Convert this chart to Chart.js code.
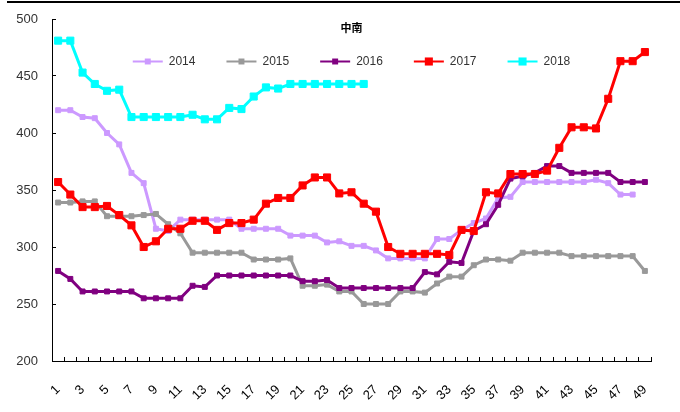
<!DOCTYPE html>
<html><head><meta charset="utf-8">
<script src="https://cdn.jsdelivr.net/npm/chart.js@4"></script>
<style>html,body{margin:0;padding:0;background:#fff}#wrap{width:680px;height:412px;position:relative}</style>
</head><body><div id="wrap"><canvas id="c"></canvas></div>
<script>
const chartTitle = '中南';
const categories = ['1','2','3','4','5','6','7','8','9','10','11','12','13','14','15','16','17','18','19','20','21','22','23','24','25','26','27','28','29','30','31','32','33','34','35','36','37','38','39','40','41','42','43','44','45','46','47','48','49'];
const seriesNames = ['2014','2015','2016','2017','2018'];
const s2014 = [420,420,414,413,400,390,365,356,316,314,324,324,324,324,324,316,316,316,316,310,310,310,304,305,301,301,297,290,290,290,290,307,307,315,321,325,343,344,357,357,357,357,357,357,359,356,346,346];
const s2015 = [339,339,340,340,327,327,327,328,329,320,312,295,295,295,295,295,289,289,289,290,266,266,267,261,261,250,250,250,261,261,260,268,274,274,284,289,289,288,295,295,295,295,292,292,292,292,292,292,279];
const s2016 = [279,272,261,261,261,261,261,255,255,255,255,266,265,275,275,275,275,275,275,275,270,270,271,264,264,264,264,264,264,264,278,276,287,286,314,320,337,360,362,365,371,371,365,365,365,365,357,357,357];
const s2017 = [357,346,335,335,336,328,319,300,305,316,316,323,323,315,321,321,324,338,343,343,354,361,361,347,348,338,331,300,294,294,294,294,293,315,314,348,347,364,364,364,367,387,405,405,404,430,463,463,471];
const s2018 = [481,481,453,443,437,438,414,414,414,414,414,416,412,412,422,421,432,440,439,443,443,443,443,443,443,443];
const yTicks = [200,250,300,350,400,450,500];

const FONT = "'Liberation Sans', Arial, sans-serif";
const seriesData = [s2014, s2015, s2016, s2017, s2018];
const colors = ['#CC99FF', '#999999', '#800080', '#FF0000', '#00FFFF'];
const radii = [3.5, 3.5, 3.5, 5, 5];
const orders = [5, 4, 3, 2, 1];

const datasets = seriesNames.map((name, i) => ({
  label: name,
  data: seriesData[i],
  borderColor: colors[i],
  backgroundColor: colors[i],
  borderWidth: 3,
  pointStyle: 'rect',
  pointRadius: radii[i],
  pointBorderWidth: 1,
  pointBackgroundColor: colors[i],
  pointBorderColor: colors[i],
  tension: 0,
  order: orders[i]
}));

const decorations = {
  id: 'decorations',
  beforeLayout(chart) {
    const lg = chart.legend;
    if (lg && !lg._patched) {
      const f = lg.fit.bind(lg);
      lg.fit = function () { f(); this.height = 19; };
      lg.draw = function () { if (this.options.display) this._draw(); };
      lg._patched = true;
    }
  },
  afterDraw(chart) {
    const ctx = chart.ctx;
    const lg = chart.legend;
    const bw = lg.options.labels.boxWidth;
    ctx.save();
    lg.legendHitBoxes.forEach((hb, i) => {
      const item = lg.legendItems[i];
      const ds = chart.data.datasets[item.datasetIndex];
      const s = ds.pointRadius * Math.SQRT2 + 1;
      const cx = hb.left + bw / 2, cy = hb.top + hb.height / 2;
      ctx.fillStyle = ds.borderColor;
      ctx.fillRect(cx - s / 2, cy - s / 2, s, s);
    });
    ctx.fillStyle = '#000';
    ctx.fillRect(7, 1, 673, 2);
    ctx.restore();
  }
};

new Chart(document.getElementById('c'), {
  type: 'line',
  data: { labels: categories, datasets },
  options: {
    responsive: true,
    maintainAspectRatio: false,
    animation: false,
    events: [],
    layout: { padding: { left: 0, right: 29, top: 0, bottom: 0 } },
    plugins: {
      tooltip: { enabled: false },
      legend: {
        display: true,
        position: 'top',
        fullSize: false,
        align: 'center',
        title: {
          display: true,
          text: chartTitle,
          color: '#000',
          font: { family: "'Noto Sans CJK SC', sans-serif", size: 11, weight: 'bold' },
          padding: { top: 22.5, bottom: -11.2 }
        },
        labels: {
          boxWidth: 30,
          boxHeight: 2,
          padding: 31,
          color: '#333',
          font: { family: FONT, size: 12 },
          sort: (a, b) => a.datasetIndex - b.datasetIndex,
          generateLabels: (chart) => Chart.defaults.plugins.legend.labels.generateLabels(chart).map(l => Object.assign(l, { lineWidth: 0 }))
        }
      }
    },
    scales: {
      x: {
        type: 'category',
        offset: true,
        afterFit: s => { s.height = 51; s.paddingLeft = 0; s.paddingRight = 0; },
        border: { display: true, color: '#000', width: 1 },
        grid: { drawOnChartArea: false, drawTicks: true, tickLength: -4, color: '#000', offset: true },
        ticks: {
          autoSkip: false,
          minRotation: 45,
          maxRotation: 45,
          padding: 25,
          color: '#000',
          font: { family: FONT, size: 13 },
          callback: function (value, index) { return index % 2 === 0 ? this.getLabelForValue(value) : ''; }
        }
      },
      y: {
        min: 200,
        max: 500,
        afterFit: s => { s.width = 52; s.paddingTop = 0; s.paddingBottom = 0; },
        afterBuildTicks: s => { s.ticks = yTicks.map(v => ({ value: v })); },
        border: { display: true, color: '#000', width: 1 },
        grid: { drawOnChartArea: false, drawTicks: true, tickLength: -4, color: '#000' },
        ticks: {
          padding: 18,
          color: '#333',
          font: { family: FONT, size: 13 }
        }
      }
    }
  },
  plugins: [decorations]
});
</script>
</body></html>
